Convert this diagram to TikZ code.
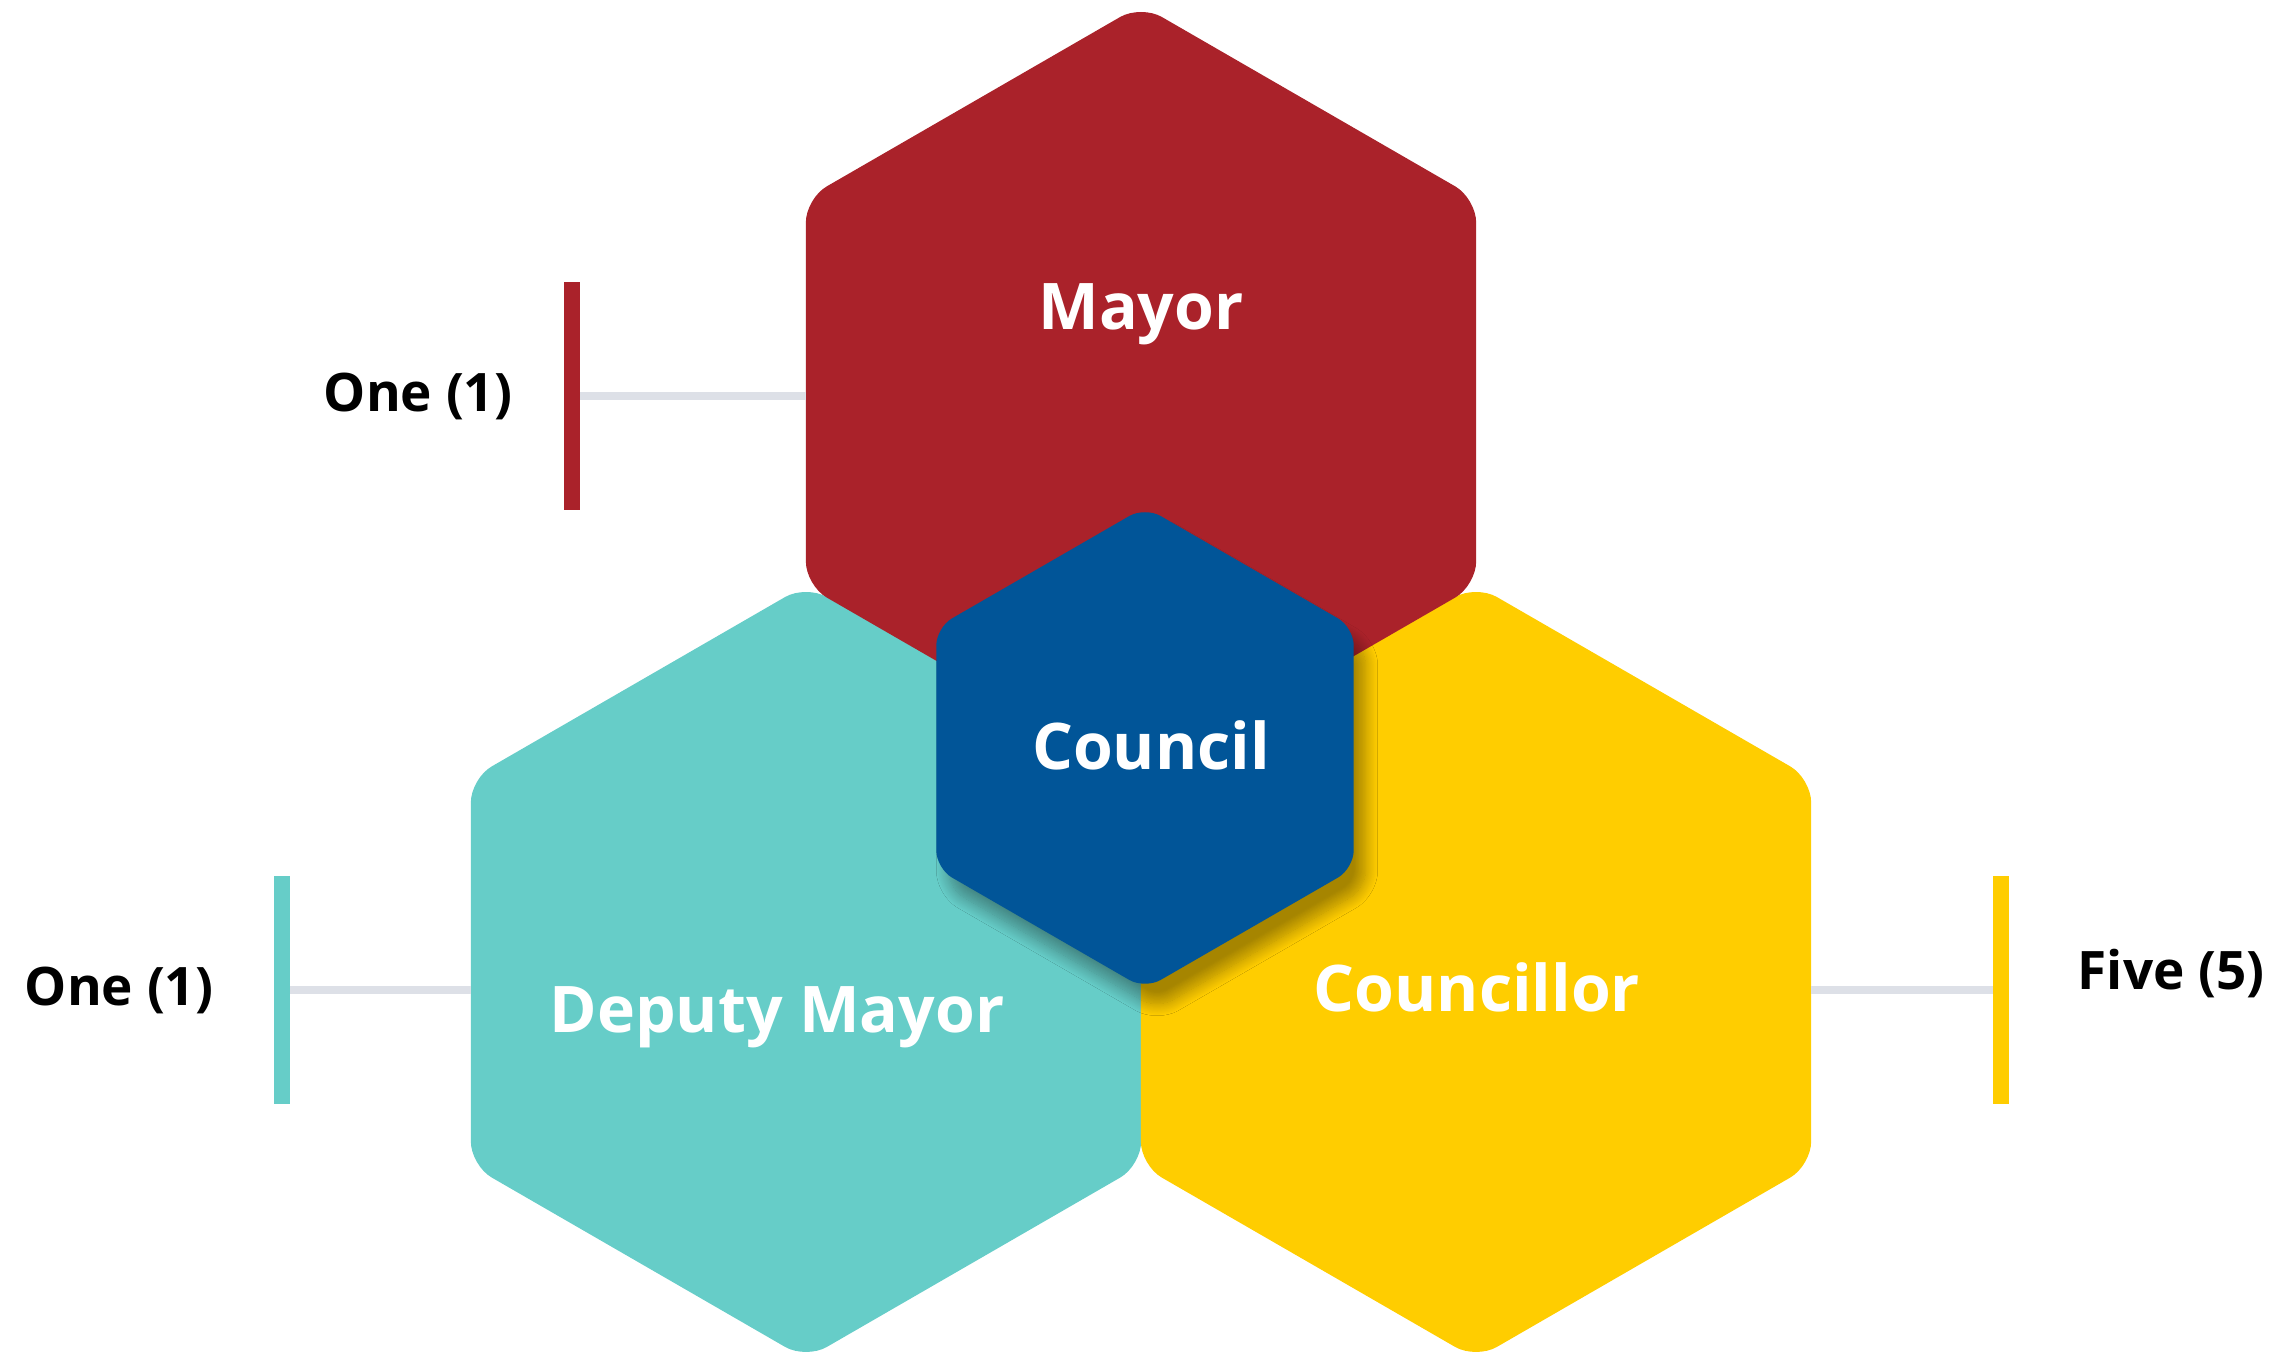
\documentclass[tikz,border=0pt]{standalone}
\usepackage{fontspec}
\setmainfont{Open Sans}
\usetikzlibrary{positioning,shapes.geometric,shadows.blur}

\definecolor{mayorred}{RGB}{170,34,42}
\definecolor{deputyteal}{RGB}{102,205,200}
\definecolor{cllryellow}{RGB}{255,205,0}
\definecolor{councilblue}{RGB}{1,85,152}
\definecolor{linkgray}{RGB}{221,224,231}

\begin{document}
\begin{tikzpicture}[
    hexa/.style={regular polygon,regular polygon sides=6,shape border rotate=30,
      inner sep=0pt,outer sep=0pt,minimum size=7.74cm,rounded corners=0.24cm},
    hextext/.style={anchor=base,text=white,font=\fontsize{18.3}{22}\selectfont\bfseries},
    tally/.style={inner sep=0pt,font=\fontsize{15.1}{18}\selectfont\bfseries},
    countbar/.style={inner sep=0pt,outer sep=0pt,minimum width=0.16cm,minimum height=2.28cm},
    link/.style={line width=0.08cm,draw=linkgray}]
  \useasboundingbox (0,0) rectangle (22.77,13.58);

  \node[hexa,fill=deputyteal] (deputy) at (8.06,3.86) {};
  \node[hexa,fill=cllryellow] (cllr) at (14.76,3.86) {};
  \node[hexa,fill=mayorred] (mayor) at (11.41,9.66) {};

  \node[countbar,fill=mayorred] (mayorbar) at (5.72,9.62) {};
  \node[countbar,fill=deputyteal] (depbar) at (2.82,3.68) {};
  \node[countbar,fill=cllryellow] (cllrbar) at (20.01,3.68) {};

  \draw[link] (mayorbar.east) -- (mayorbar.east -| mayor.west);
  \draw[link] (depbar.east) -- (depbar.east -| deputy.west);
  \draw[link] (cllrbar.west) -- (cllrbar.west -| cllr.east);

  \node[hexa,fill=councilblue,minimum size=4.82cm,rounded corners=0.18cm,
    blur shadow={shadow xshift=0.12cm,shadow yshift=-0.2cm,shadow blur radius=0.12cm,
      shadow blur steps=16,shadow opacity=35}] (council) at (11.45,6.10) {};

  \node[hextext] (mayortxt) at (11.41,10.28) {Mayor};
  \node[hextext] (counciltxt) at (11.51,5.88) {Council};
  \node[hextext] (deptxt) at (7.77,3.25) {Deputy Mayor};
  \node[hextext] (cllrtxt) at (14.77,3.46) {Councillor};

  \node[tally,left=0.51cm of mayorbar] (mayorcount) {One (1)};
  \node[tally,left=0.60cm of depbar] (depcount) {One (1)};
  \node[tally,right=0.68cm of cllrbar,yshift=0.16cm] (cllrcount) {Five (5)};
\end{tikzpicture}
\end{document}
